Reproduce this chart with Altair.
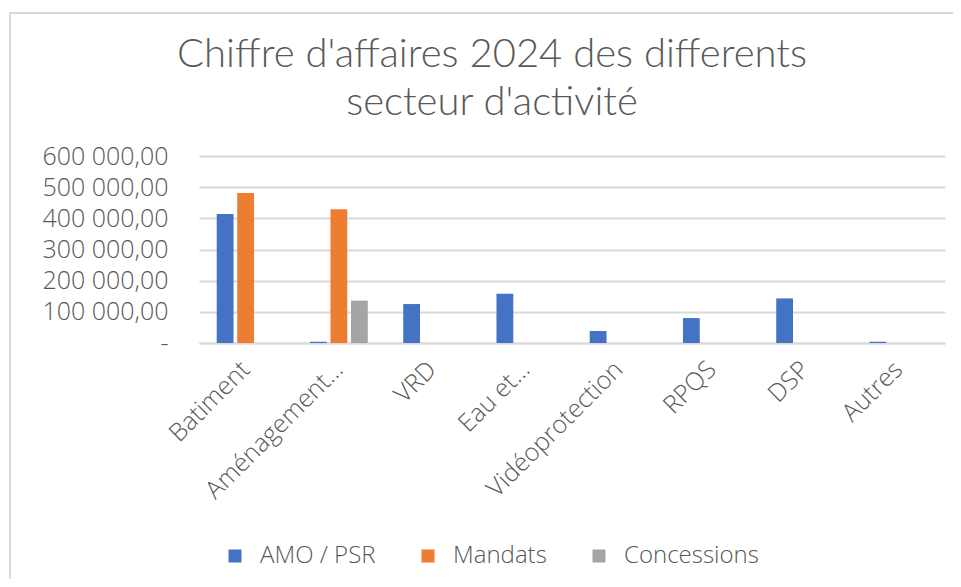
import altair as alt
import pandas as pd

categories = ["Batiment", "Aménagement…", "VRD", "Eau et…", "Vidéoprotection", "RPQS", "DSP", "Autres"]
series = ["AMO / PSR", "Mandats", "Concessions"]
amo = [414000, 4000, 125000, 158000, 38500, 80000, 143000, 4000]
mandats = [481000, 429000, 0, 0, 0, 0, 0, 0]
concessions = [0, 136000, 0, 0, 0, 0, 0, 0]
colors = ["#4472C4", "#ED7D31", "#A5A5A5"]
y_ticks = [0, 100000, 200000, 300000, 400000, 500000, 600000]

rows = []
for i, c in enumerate(categories):
    for s, vals in zip(series, [amo, mandats, concessions]):
        rows.append({"cat": c, "serie": s, "val": vals[i]})
df = pd.DataFrame(rows)

font = "Open Sans"
grey = "#595959"
W, H = 746, 187

border = alt.Chart(pd.DataFrame({"a": [0]})).mark_rect(
    fill="transparent", stroke="#d9d9d9", strokeWidth=2
).encode(
    x=alt.value(-189), x2=alt.value(1000), y=alt.value(-143), y2=alt.value(700)
)

bars = alt.Chart(df).mark_bar().encode(
    x=alt.X("cat:N", sort=categories,
            scale=alt.Scale(paddingInner=0.38, paddingOuter=0.19),
            axis=alt.Axis(title=None, labelAngle=-45, labelAlign="right", labelBaseline="middle",
                          labelPadding=22, ticks=False, domainColor="#d9d9d9", domainWidth=2,
                          labelFont=font, labelFontSize=25, labelColor=grey, labelFontWeight=300,
                          labelLimit=400)),
    xOffset=alt.XOffset("serie:N", sort=series, scale=alt.Scale(paddingInner=0.18, paddingOuter=0)),
    y=alt.Y("val:Q", scale=alt.Scale(domain=[0, 600000], nice=False),
            axis=alt.Axis(title=None, values=y_ticks, ticks=False, domain=False,
                          gridColor="#d9d9d9", gridWidth=2, labelPadding=31,
                          labelFont=font, labelFontSize=25, labelColor=grey, labelFontWeight=300,
                          labelExpr="datum.value == 0 ? '-\u00a0\u00a0' : format(datum.value/1000, 'd') + ' 000,00'")),
    color=alt.Color("serie:N", sort=series,
                    scale=alt.Scale(domain=series, range=colors),
                    legend=alt.Legend(title=None, orient="none", direction="horizontal",
                                      legendX=24, legendY=388, symbolType="square", symbolSize=169,
                                      symbolStrokeWidth=0, labelFont=font, labelFontSize=24,
                                      labelColor=grey, labelFontWeight=300, labelOffset=13,
                                      columnPadding=40, labelLimit=300)),
)

chart = alt.layer(border, bars).properties(
    width=W, height=H,
    autosize=alt.AutoSizeParams(type="none"),
    padding={"left": 191, "top": 148, "right": 8, "bottom": 236},
    title=alt.Title(["Chiffre d'affaires 2024 des differents", "secteur d'activité"],
                    anchor="middle", dx=-80, dy=141, offset=30, font="Lato", fontSize=40,
                    fontWeight=300, color=grey, lineHeight=48),
).configure_view(stroke=None)

chart.save("out.html", embed_options={"renderer": "svg", "actions": False})
